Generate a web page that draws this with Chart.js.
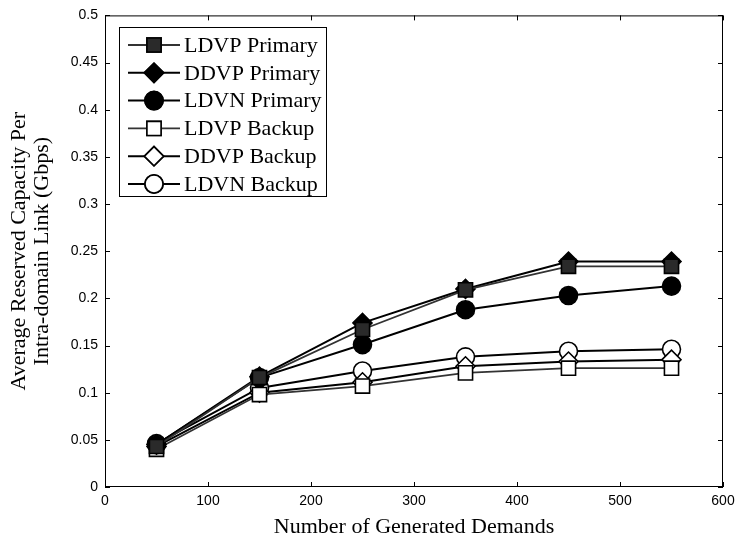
<!DOCTYPE html>
<html>
<head>
<meta charset="utf-8">
<script src="https://cdn.jsdelivr.net/npm/chart.js@4/dist/chart.umd.min.js"></script>
<style>
  html, body { margin: 0; padding: 0; background: #fff; }
  #wrap { width: 745px; height: 543px; }
</style>
</head>
<body>
<div id="wrap"><canvas id="c" width="745" height="543"></canvas></div>
<script>
// Number of generated demands (x positions)
const demands = [50, 150, 250, 350, 450, 550];

// Average reserved capacity per intra-domain link (Gbps)
const ldvpPrimary = [0.043, 0.116, 0.167, 0.209, 0.234, 0.234];
const ddvpPrimary = [0.045, 0.117, 0.174, 0.210, 0.239, 0.239];
const ldvnPrimary = [0.045, 0.116, 0.151, 0.188, 0.203, 0.213];
const ldvpBackup  = [0.040, 0.098, 0.107, 0.121, 0.126, 0.126];
const ddvpBackup  = [0.043, 0.100, 0.111, 0.128, 0.133, 0.135];
const ldvnBackup  = [0.046, 0.105, 0.123, 0.138, 0.144, 0.146];

const seriesNames = ['LDVP Primary', 'DDVP Primary', 'LDVN Primary',
                     'LDVP Backup', 'DDVP Backup', 'LDVN Backup'];

const xTicks = [0, 100, 200, 300, 400, 500, 600];
const yTicks = [0, 0.05, 0.1, 0.15, 0.2, 0.25, 0.3, 0.35, 0.4, 0.45, 0.5];

const SERIF = '"Liberation Serif", "Times New Roman", serif';
const SANS = '"Liberation Sans", Arial, sans-serif';

const toPoints = vals => vals.map((v, i) => ({ x: demands[i], y: v }));

function series(label, vals, style, radius, fill, lineColor, lineWidth) {
  return {
    label,
    data: toPoints(vals),
    showLine: true,
    borderColor: lineColor,
    borderWidth: lineWidth,
    pointStyle: style,
    pointRadius: radius,
    pointHoverRadius: radius,
    pointBackgroundColor: fill,
    pointBorderColor: '#000',
    pointBorderWidth: 1.6,
    fill: false,
    tension: 0
  };
}

const datasets = [
  series(seriesNames[0], ldvpPrimary, 'rect', 10, '#2a2a2a', '#333', 1.8),
  series(seriesNames[1], ddvpPrimary, 'rectRot', 9.5, '#000', '#000', 2),
  series(seriesNames[2], ldvnPrimary, 'circle', 9, '#000', '#000', 2),
  series(seriesNames[3], ldvpBackup, 'rect', 10, '#fff', '#333', 1.8),
  series(seriesNames[4], ddvpBackup, 'rectRot', 9.5, '#fff', '#000', 2),
  series(seriesNames[5], ldvnBackup, 'circle', 9, '#fff', '#000', 2)
];

// Frame on all four sides with inward tick marks
const framePlugin = {
  id: 'frame',
  afterDatasetsDraw(chart) {
    const { ctx, chartArea: a, scales } = chart;
    ctx.save();
    ctx.strokeStyle = '#000';
    ctx.lineWidth = 1;
    ctx.strokeRect(a.left + 0.5, a.top + 0.5, a.right - a.left - 1, a.bottom - a.top - 1);
    const len = 5;
    ctx.beginPath();
    xTicks.forEach(v => {
      const px = Math.round(scales.x.getPixelForValue(v)) + 0.5;
      ctx.moveTo(px, a.bottom); ctx.lineTo(px, a.bottom - len);
      ctx.moveTo(px, a.top); ctx.lineTo(px, a.top + len);
    });
    yTicks.forEach(v => {
      const py = Math.round(scales.y.getPixelForValue(v)) + 0.5;
      ctx.moveTo(a.left, py); ctx.lineTo(a.left + len, py);
      ctx.moveTo(a.right, py); ctx.lineTo(a.right - len, py);
    });
    ctx.stroke();
    ctx.restore();
  }
};

// Boxed legend inside the plot, top-left
const legendBoxPlugin = {
  id: 'legendBox',
  afterDraw(chart) {
    const { ctx } = chart;
    const box = { left: 119, top: 27, width: 207, height: 169 };
    ctx.save();
    ctx.fillStyle = '#fff';
    ctx.fillRect(box.left, box.top, box.width, box.height);
    ctx.strokeStyle = '#000';
    ctx.lineWidth = 1;
    ctx.strokeRect(box.left + 0.5, box.top + 0.5, box.width, box.height);
    ctx.font = '22px ' + SERIF;
    ctx.textBaseline = 'middle';
    ctx.textAlign = 'left';
    chart.data.datasets.forEach((ds, i) => {
      const y = box.top + 18 + i * 27.8;
      const x0 = box.left + 9, x1 = box.left + 61, xm = (x0 + x1) / 2;
      ctx.strokeStyle = ds.borderColor;
      ctx.lineWidth = ds.borderWidth;
      ctx.beginPath();
      ctx.moveTo(x0, y); ctx.lineTo(x1, y);
      ctx.stroke();
      Chart.helpers.drawPoint(ctx, {
        pointStyle: ds.pointStyle,
        radius: ds.pointRadius,
        borderWidth: ds.pointBorderWidth,
        rotation: 0
      }, xm, y);
      ctx.fillStyle = ds.pointBackgroundColor;
      ctx.strokeStyle = '#000';
      ctx.lineWidth = ds.pointBorderWidth;
      ctx.fill();
      ctx.stroke();
      ctx.fillStyle = '#000';
      ctx.fillText(ds.label, box.left + 65, y + 1);
    });
    ctx.restore();
  }
};

new Chart(document.getElementById('c'), {
  type: 'scatter',
  data: { datasets },
  plugins: [framePlugin, legendBoxPlugin],
  options: {
    responsive: false,
    animation: false,
    layout: { padding: { top: 15, right: 22, left: 0, bottom: 0 } },
    plugins: {
      legend: { display: false },
      tooltip: { enabled: false }
    },
    scales: {
      x: {
        type: 'linear',
        min: 0, max: 600,
        afterBuildTicks: s => { s.ticks = xTicks.map(v => ({ value: v })); },
        afterFit: s => { s.height = 56; },
        grid: { display: false, drawTicks: false },
        border: { display: false },
        ticks: {
          color: '#000',
          font: { family: SANS, size: 14 },
          padding: 6,
          maxRotation: 0,
          callback: v => String(v)
        },
        title: {
          display: true,
          text: 'Number of Generated Demands',
          color: '#000',
          font: { family: SERIF, size: 22, lineHeight: 1.2 },
          padding: { top: 0, bottom: 3 }
        }
      },
      y: {
        type: 'linear',
        min: 0, max: 0.5,
        afterBuildTicks: s => { s.ticks = yTicks.map(v => ({ value: v })); },
        afterFit: s => { s.width = 105; },
        grid: { display: false, drawTicks: false },
        border: { display: false },
        ticks: {
          color: '#000',
          font: { family: SANS, size: 14 },
          padding: 7,
          callback: v => String(Math.round(v * 100) / 100)
        },
        title: {
          display: true,
          text: ['Average Reserved Capacity Per', 'Intra-domain Link (Gbps)'],
          color: '#000',
          font: { family: SERIF, size: 22, lineHeight: 1.05 },
          padding: { top: 8, bottom: 4 }
        }
      }
    }
  }
});
</script>
</body>
</html>
